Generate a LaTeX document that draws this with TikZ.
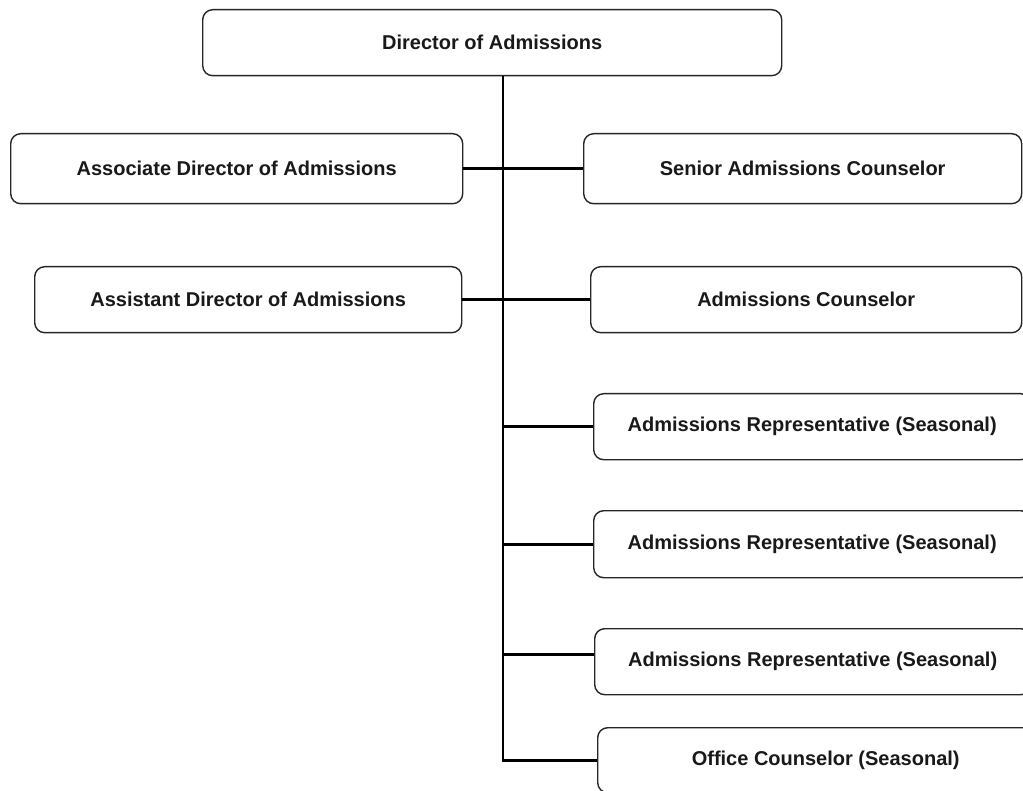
\documentclass[tikz,border=0pt]{standalone}
\usepackage{fontspec}
\setmainfont{Liberation Sans}
\begin{document}
\begin{tikzpicture}[x=1pt,y=-1pt,
  box/.style={draw=black!85, line width=1.4pt, rounded corners=10pt, fill=white, anchor=north west,
    inner sep=0pt, font=\fontsize{20}{22}\selectfont\bfseries, text=black!90},
  conn/.style={draw=black, line width=2.8pt}]
\useasboundingbox (0,0) rectangle (1023,791);
\clip (0,0) rectangle (1023,791);
\fill[white] (0,0) rectangle (1023,791);
\node[box, minimum width=579pt, minimum height=66pt] (top) at (202,9) {Director of Admissions};
\node[box, minimum width=452pt, minimum height=70pt] (assoc) at (10,133) {Associate Director of Admissions};
\node[box, minimum width=438pt, minimum height=70pt] (senior) at (583,133) {Senior Admissions Counselor};
\node[box, minimum width=427pt, minimum height=66pt] (assist) at (34,266) {Assistant Director of Admissions};
\node[box, minimum width=431pt, minimum height=66pt] (couns) at (590,266) {Admissions Counselor};
\node[box, minimum width=437pt, minimum height=66pt] (rep1) at (593,393) {Admissions Representative (Seasonal)};
\node[box, minimum width=437pt, minimum height=67pt] (rep2) at (593,510) {Admissions Representative (Seasonal)};
\node[box, minimum width=436pt, minimum height=66pt] (rep3) at (594,628) {Admissions Representative (Seasonal)};
\node[box, minimum width=456pt, minimum height=65pt] (office) at (597,727) {Office Counselor (Seasonal)};
\coordinate (jx) at (503,0);
\draw[conn] (top.south -| jx) -- (jx |- office.west) -- (office.west);
\draw[conn] (assoc.east) -- (assoc.east -| senior.west);
\draw[conn] (assist.east) -- (assist.east -| couns.west);
\draw[conn] (jx |- rep1.west) -- (rep1.west);
\draw[conn] (jx |- rep2.west) -- (rep2.west);
\draw[conn] ([yshift=7pt]rep3.west -| jx) -- ([yshift=7pt]rep3.west);
\end{tikzpicture}
\end{document}
